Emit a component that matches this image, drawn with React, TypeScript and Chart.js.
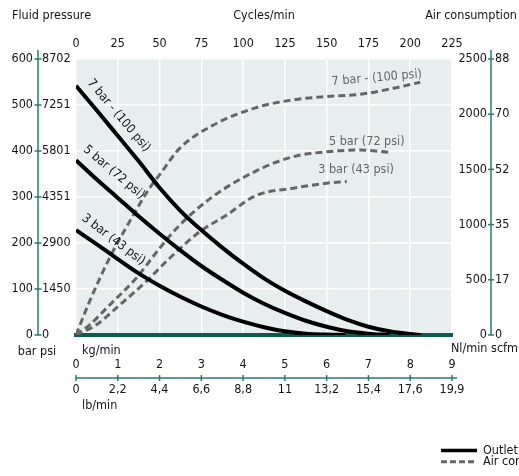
import React, { useEffect, useRef } from "react";
import { Chart, registerables } from "chart.js";

Chart.register(...registerables);

const FONT = "'Liberation Sans Narrow', 'DejaVu Sans Condensed', 'Arial Narrow', 'Liberation Sans', sans-serif";
const SIZE = 12.5;
const TXT = "#151515";
const BG = "#e8eeee";
const TEAL = "#257b71";
const DARK_TEAL = "#0d5a52";
const GRAY = "#666666";

// Tick labels
const barLabels = ["0", "100", "200", "300", "400", "500", "600"];
const psiLabels = ["0", "1450", "2900", "4351", "5801", "7251", "8702"];
const nlLabels = ["0", "500", "1000", "1500", "2000", "2500"];
const scfmLabels = ["0", "17", "35", "52", "70", "88"];
const kgLabels = ["0", "1", "2", "3", "4", "5", "6", "7", "8", "9"];
const lbLabels = ["0", "2,2", "4,4", "6,6", "8,8", "11", "13,2", "15,4", "17,6", "19,9"];

// Outlet curves: kg/min vs bar
const outlet7Kg = [0, 0.5, 1, 1.5, 2, 2.5, 3, 3.5, 4, 4.5, 5, 5.5, 6, 6.5, 7, 7.5, 8, 8.25];
const outlet7Bar = [542, 488, 433, 378, 320, 270, 228, 190, 155, 123, 96, 73, 52, 33, 18, 8, 2, 0];
const outlet5Kg = [0, 0.5, 1, 1.5, 2, 2.5, 3, 3.5, 4, 4.5, 5, 5.5, 6, 6.5, 7, 7.5];
const outlet5Bar = [380, 338, 298, 258, 220, 184, 150, 120, 92, 68, 48, 31, 18, 8, 3, 0];
const outlet3Kg = [0, 0.5, 1, 1.5, 2, 2.5, 3, 3.5, 4, 4.5, 5, 5.5, 6, 6.45];
const outlet3Bar = [228, 197, 165, 134, 107, 83, 62, 44, 29, 17, 8, 3, 1, 0];

// Air consumption curves: cycles/min vs Nl/min
const air7Cycles = [0, 8, 20, 32, 44, 50, 62, 82, 109, 130, 150, 170, 190, 206];
const air7Nl = [0, 300, 695, 1025, 1330, 1450, 1690, 1900, 2065, 2130, 2160, 2180, 2235, 2290];
const air5Cycles = [0, 8, 20, 36, 50, 62, 82, 109, 130, 150, 170, 187];
const air5Nl = [0, 90, 270, 515, 785, 995, 1255, 1495, 1615, 1660, 1675, 1655];
const air3Cycles = [0, 12, 26, 42, 56, 74, 90, 108, 130, 150, 162];
const air3Nl = [0, 90, 270, 485, 695, 935, 1085, 1265, 1330, 1375, 1390];

const seriesNames = ["7 bar - (100 psi)", "5 bar (72 psi)", "3 bar (43 psi)"];
const legendNames = ["Outlet", "Air consumption"];

const zip = (xs: number[], ys: number[]) => xs.map((x, i) => ({ x, y: ys[i] }));

const font = (size = SIZE) => ({ family: FONT, size, lineHeight: 1.2 });

function line(ctx: CanvasRenderingContext2D, x1: number, y1: number, x2: number, y2: number) {
  ctx.beginPath();
  ctx.moveTo(x1, y1);
  ctx.lineTo(x2, y2);
  ctx.stroke();
}

function text(ctx: CanvasRenderingContext2D, s: string, x: number, y: number, align: CanvasTextAlign, color = TXT, rot = 0) {
  ctx.save();
  ctx.translate(x, y);
  if (rot) ctx.rotate((rot * Math.PI) / 180);
  ctx.fillStyle = color;
  ctx.textAlign = align;
  ctx.textBaseline = "middle";
  ctx.font = `${SIZE}px ${FONT}`;
  ctx.fillText(s, 0, 0);
  ctx.restore();
}

const decorPlugin = {
  id: "decor",
  beforeDraw(chart: any) {
    const { ctx, chartArea: a } = chart;
    ctx.save();
    ctx.fillStyle = BG;
    ctx.fillRect(a.left, a.top, a.right - a.left, a.bottom - a.top);
    ctx.restore();
  },
  afterDatasetsDraw(chart: any) {
    const { ctx, scales } = chart;
    const { xKg, yBar, xCyc, yNl } = scales;
    // outlet labels (along solid curves), shifted off the curve
    const outletLabels = [
      { kg: 0.93, bar: 470, rot: 50, off: 5 },
      { kg: 0.83, bar: 345, rot: 40, off: 5 },
      { kg: 0.84, bar: 200, rot: 37, off: 4 },
    ];
    outletLabels.forEach((l, i) => {
      const r = (l.rot * Math.PI) / 180;
      const x = xKg.getPixelForValue(l.kg) + l.off * Math.sin(r);
      const y = yBar.getPixelForValue(l.bar) - l.off * Math.cos(r);
      text(ctx, seriesNames[i], x, y, "center", TXT, l.rot);
    });
    const airLabels = [
      { c: 180, nl: 2328, rot: -5 },
      { c: 174, nl: 1751, rot: 0 },
      { c: 167.6, nl: 1495, rot: 0 },
    ];
    airLabels.forEach((l, i) =>
      text(ctx, seriesNames[i], xCyc.getPixelForValue(l.c), yNl.getPixelForValue(l.nl), "center", GRAY, l.rot)
    );
  },
  afterDraw(chart: any) {
    const { ctx, scales } = chart;
    const { yBar, yPsi, yNl, yScfm, xLb } = scales;
    ctx.save();
    ctx.strokeStyle = TEAL;
    ctx.lineWidth = 1.5;
    // left axis line
    const lx = yPsi.left - 4;
    line(ctx, lx, yBar.getPixelForValue(yBar.max) - 9, lx, yBar.getPixelForValue(yBar.min));
    yBar.ticks.forEach((t: any) => {
      const y = yBar.getPixelForValue(t.value);
      line(ctx, lx - 3.5, y, lx + 3.5, y);
    });
    // right axis line
    const rx = yScfm.left + 4;
    line(ctx, rx, yNl.getPixelForValue(yNl.max) - 9, rx, yNl.getPixelForValue(yNl.min));
    yNl.ticks.forEach((t: any) => {
      const y = yNl.getPixelForValue(t.value);
      line(ctx, rx - 3, y, rx + 3, y);
    });
    // bottom kg / lb axis line
    const by = xLb.top;
    line(ctx, xLb.getPixelForValue(xLb.min), by, xLb.getPixelForValue(xLb.max) + 5, by);
    xLb.ticks.forEach((t: any) => {
      const x = xLb.getPixelForValue(t.value);
      line(ctx, x, by - 3, x, by + 3);
    });
    ctx.restore();

    // axis captions
    text(ctx, "Fluid pressure", 12, 16, "left");
    text(ctx, "Air consumption", 517, 16, "right");
    text(ctx, "bar psi", 37, 351.5, "center");
    text(ctx, "kg/min", 82, 350.5, "left");
    text(ctx, "Nl/min scfm", 518, 349, "right");
    text(ctx, "lb/min", 82, 405.5, "left");

    // legend
    const ds = chart.data.datasets;
    const legendRows = [
      { d: ds[0], y: 450.5, dash: [] as number[] },
      { d: ds[3], y: 461.7, dash: [6, 3] },
    ];
    legendRows.forEach((r, i) => {
      ctx.save();
      ctx.strokeStyle = r.d.borderColor;
      ctx.lineWidth = i === 0 ? 3.5 : 3;
      ctx.setLineDash(r.dash);
      line(ctx, 441, r.y, 477, r.y);
      ctx.restore();
      text(ctx, legendNames[i], 483, r.y, "left");
    });
  },
};

export default function App() {
  const ref = useRef<HTMLCanvasElement>(null);
  useEffect(() => {
    document.body.style.margin = "0";
    const solid = (data: any) => ({
      data,
      xAxisID: "xKg",
      yAxisID: "yBar",
      borderColor: "#000000",
      borderWidth: 4,
      pointRadius: 0,
      fill: false,
      cubicInterpolationMode: "monotone" as const,
      borderCapStyle: "butt" as const,
    });
    const dashed = (data: any) => ({
      data,
      xAxisID: "xCyc",
      yAxisID: "yNl",
      borderColor: GRAY,
      borderWidth: 3,
      borderDash: [7, 4],
      pointRadius: 0,
      fill: false,
      cubicInterpolationMode: "monotone" as const,
      borderCapStyle: "butt" as const,
    });
    const tickCommon = { color: TXT, font: font(), autoSkip: false, maxRotation: 0 };
    const chart = new Chart(ref.current!, {
      type: "line",
      data: {
        datasets: [
          { label: seriesNames[0], ...solid(zip(outlet7Kg, outlet7Bar)) },
          { label: seriesNames[1], ...solid(zip(outlet5Kg, outlet5Bar)) },
          { label: seriesNames[2], ...solid(zip(outlet3Kg, outlet3Bar)) },
          { label: seriesNames[0], ...dashed(zip(air7Cycles, air7Nl)) },
          { label: seriesNames[1], ...dashed(zip(air5Cycles, air5Nl)) },
          { label: seriesNames[2], ...dashed(zip(air3Cycles, air3Nl)) },
        ],
      },
      options: {
        responsive: false,
        animation: false,
        devicePixelRatio: 1,
        layout: { padding: 0 },
        plugins: { legend: { display: false }, tooltip: { enabled: false } },
        scales: {
          xCyc: {
            type: "linear",
            position: "top",
            min: 0,
            max: 225,
            afterFit: (s: any) => { s.height = 59; },
            ticks: { ...tickCommon, stepSize: 25, padding: 8, callback: (v: any) => String(v) },
            grid: { color: "#ffffff", lineWidth: 1.5, drawTicks: false, drawOnChartArea: true },
            border: { display: false },
            title: { display: true, text: "Cycles/min", color: TXT, font: font(), padding: { top: 8, bottom: 0 } },
          },
          xKg: {
            type: "linear",
            position: "bottom",
            weight: 0,
            min: 0,
            max: 9,
            afterFit: (s: any) => { s.height = 43; },
            ticks: { ...tickCommon, stepSize: 1, padding: 22, callback: (_v: any, i: number) => kgLabels[i] },
            grid: { drawOnChartArea: false, drawTicks: false },
            border: { display: true, color: DARK_TEAL, width: 4 },
          },
          xLb: {
            type: "linear",
            position: "bottom",
            weight: 1,
            min: 0,
            max: 9,
            afterFit: (s: any) => { s.height = 98; },
            ticks: { ...tickCommon, stepSize: 1, padding: 4, callback: (_v: any, i: number) => lbLabels[i] },
            grid: { drawOnChartArea: false, drawTicks: false },
            border: { display: false },
          },
          yBar: {
            type: "linear",
            position: "left",
            weight: 1,
            min: 0,
            max: 600,
            afterFit: (s: any) => { s.width = 42; },
            ticks: { ...tickCommon, stepSize: 100, padding: 9, callback: (_v: any, i: number) => barLabels[i] },
            grid: { color: "#ffffff", lineWidth: 1.5, drawTicks: false, drawOnChartArea: true },
            border: { display: false },
          },
          yPsi: {
            type: "linear",
            position: "left",
            weight: 0,
            min: 0,
            max: 600,
            afterFit: (s: any) => { s.width = 34; },
            ticks: { ...tickCommon, stepSize: 100, padding: 0, crossAlign: "far", callback: (_v: any, i: number) => psiLabels[i] },
            grid: { drawOnChartArea: false, drawTicks: false },
            border: { display: false },
          },
          yNl: {
            type: "linear",
            position: "right",
            weight: 0,
            min: 0,
            max: 2500,
            afterFit: (s: any) => { s.width = 35; },
            ticks: { ...tickCommon, stepSize: 500, padding: 0, crossAlign: "far", callback: (_v: any, i: number) => nlLabels[i] },
            grid: { drawOnChartArea: false, drawTicks: false },
            border: { display: false },
          },
          yScfm: {
            type: "linear",
            position: "right",
            weight: 1,
            min: 0,
            max: 2500,
            afterFit: (s: any) => { s.width = 32; },
            ticks: { ...tickCommon, stepSize: 500, padding: 8, callback: (_v: any, i: number) => scfmLabels[i] },
            grid: { drawOnChartArea: false, drawTicks: false },
            border: { display: false },
          },
        },
      } as any,
      plugins: [decorPlugin],
    });
    return () => chart.destroy();
  }, []);
  return (
    <div style={{ position: "absolute", left: 0, top: 0, width: 519, height: 476 }}>
      <canvas ref={ref} width={519} height={476} style={{ display: "block", width: 519, height: 476 }} />
    </div>
  );
}
